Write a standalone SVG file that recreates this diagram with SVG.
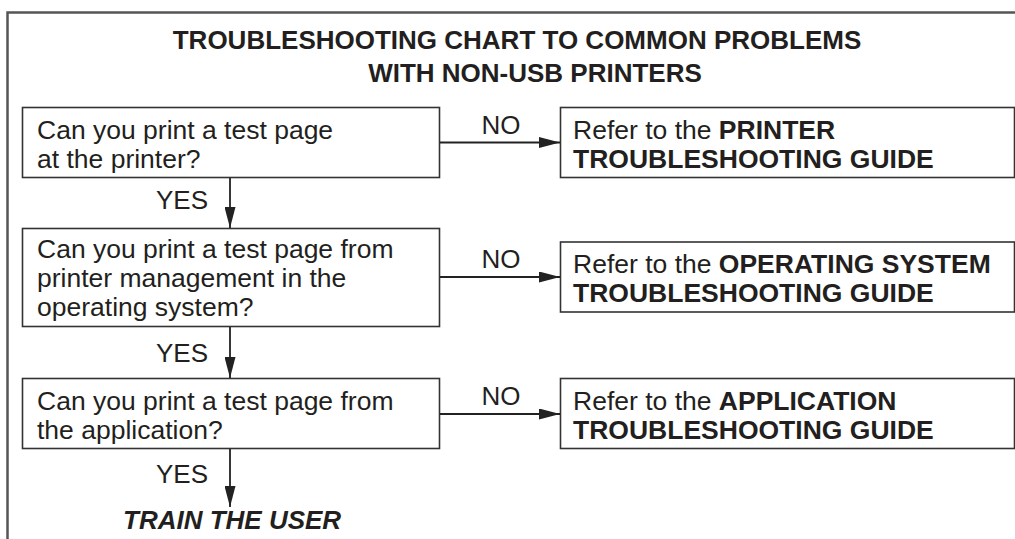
<svg xmlns="http://www.w3.org/2000/svg" width="1015" height="539" viewBox="0 0 1015 539">
  <defs>
    <style>
      .frame { fill: none; stroke: #555; stroke-width: 2.5; }
      .box { fill: #fff; stroke: #333; stroke-width: 1.6; }
      .edge { fill: none; stroke: #222; stroke-width: 1.8; }
      text { font-family: "Liberation Sans", Arial, Helvetica, sans-serif; fill: #231f20; }
      .title { font-size: 26px; font-weight: bold; text-anchor: middle; }
      .body { font-size: 26.5px; }
      .b { font-weight: bold; }
      .lbl { font-size: 26px; }
      .end { font-size: 26px; font-weight: bold; font-style: italic; }
    </style>
    <marker id="arrow" viewBox="0 0 21 11" refX="21" refY="5.5" markerWidth="21" markerHeight="11" markerUnits="userSpaceOnUse" orient="auto">
      <path d="M0,0 L21,5.5 L0,11 Z" fill="#222"/>
    </marker>
  </defs>

  <!-- page frame (open to the right and bottom) -->
  <path class="frame" d="M7.5,539 V12.5 H1015"/>

  <!-- chart heading -->
  <g id="title">
    <text class="title" x="517" y="49">TROUBLESHOOTING CHART TO COMMON PROBLEMS</text>
    <text class="title" x="535" y="82">WITH NON-USB PRINTERS</text>
  </g>

  <!-- question boxes -->
  <g id="q1">
    <rect class="box" x="22.5" y="107.5" width="417" height="70"/>
    <text class="body" x="37" y="138.5">Can you print a test page</text>
    <text class="body" x="37" y="167.5">at the printer?</text>
  </g>
  <g id="q2">
    <rect class="box" x="22.5" y="228.5" width="417" height="98"/>
    <text class="body" x="37" y="257.5">Can you print a test page from</text>
    <text class="body" x="37" y="286.5">printer management in the</text>
    <text class="body" x="37" y="315.5">operating system?</text>
  </g>
  <g id="q3">
    <rect class="box" x="22.5" y="378.5" width="417" height="70"/>
    <text class="body" x="37" y="409.5">Can you print a test page from</text>
    <text class="body" x="37" y="438.5">the application?</text>
  </g>

  <!-- referral boxes -->
  <g id="r1">
    <rect class="box" x="560.5" y="107.5" width="454" height="70"/>
    <text class="body" x="573" y="138.5">Refer to the <tspan class="b">PRINTER</tspan></text>
    <text class="body b" x="573" y="167.5">TROUBLESHOOTING GUIDE</text>
  </g>
  <g id="r2">
    <rect class="box" x="560.5" y="242" width="454" height="70"/>
    <text class="body" x="573" y="273">Refer to the <tspan class="b">OPERATING SYSTEM</tspan></text>
    <text class="body b" x="573" y="302">TROUBLESHOOTING GUIDE</text>
  </g>
  <g id="r3">
    <rect class="box" x="560.5" y="378.5" width="454" height="70"/>
    <text class="body" x="573" y="409.5">Refer to the <tspan class="b">APPLICATION</tspan></text>
    <text class="body b" x="573" y="438.5">TROUBLESHOOTING GUIDE</text>
  </g>

  <!-- final outcome -->
  <g id="outcome">
    <text class="end" x="123" y="529">TRAIN THE USER</text>
  </g>

  <!-- connectors -->
  <g id="connectors">
    <line class="edge" x1="440" y1="142.5" x2="560" y2="142.5" marker-end="url(#arrow)"/>
    <line class="edge" x1="440" y1="277" x2="560" y2="277" marker-end="url(#arrow)"/>
    <line class="edge" x1="440" y1="414" x2="560" y2="414" marker-end="url(#arrow)"/>
    <line class="edge" x1="230" y1="178" x2="230" y2="228" marker-end="url(#arrow)"/>
    <line class="edge" x1="230" y1="327" x2="230" y2="378" marker-end="url(#arrow)"/>
    <line class="edge" x1="230" y1="449" x2="230" y2="507" marker-end="url(#arrow)"/>
    <text class="lbl" x="501" y="134" text-anchor="middle">NO</text>
    <text class="lbl" x="501" y="268" text-anchor="middle">NO</text>
    <text class="lbl" x="501" y="405" text-anchor="middle">NO</text>
    <text class="lbl" x="208" y="209" text-anchor="end">YES</text>
    <text class="lbl" x="208" y="362" text-anchor="end">YES</text>
    <text class="lbl" x="208" y="483" text-anchor="end">YES</text>
  </g>
</svg>
